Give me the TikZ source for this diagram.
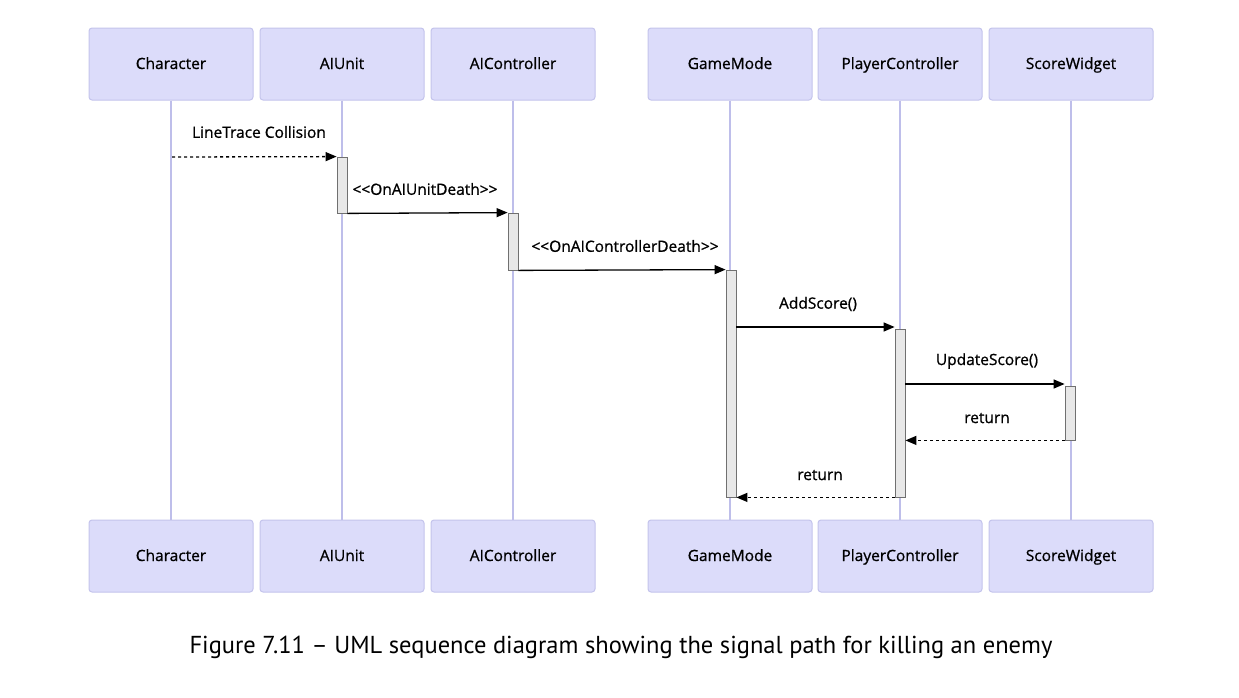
\documentclass[tikz,border=0pt]{standalone}
\usepackage{fontspec}
\setmainfont{Open Sans}
\newfontfamily\dfont{Open Sans}[BoldFont={Open Sans}, BoldFeatures={FakeBold=0.9}]
\newfontfamily\capfont{PT Sans}
\usetikzlibrary{arrows.meta}
\definecolor{boxfill}{HTML}{DCDCFA}
\definecolor{boxline}{HTML}{C4C4EC}
\definecolor{lifeline}{HTML}{BEBEEA}
\definecolor{actfill}{HTML}{E8E8E8}
\definecolor{actline}{HTML}{707070}
\tikzset{
  actor/.style={draw=boxline, fill=boxfill, rounded corners=3pt, minimum width=164pt, minimum height=72pt, inner sep=0pt, font=\dfont\bfseries\fontsize{15.5}{18}\selectfont, text height=11pt, text depth=1pt, line width=1pt},
  life/.style={draw=lifeline, line width=1.2pt},
  actbar/.style={draw=actline, fill=actfill, minimum width=10pt, inner sep=0pt, line width=0.8pt},
  msg/.style={line width=1.3pt, -{Triangle[length=11pt,width=9pt]}},
  ret/.style={msg, dash pattern=on 3pt off 3pt},
  lbl/.style={font=\dfont\bfseries\fontsize{15.5}{18}\selectfont, inner sep=0pt}
}
\begin{document}
\begin{tikzpicture}[x=1pt,y=-1pt]
\useasboundingbox[fill=white] (0,0) rectangle (1239,697);
% top actors
\node[actor] (ct) at (171,64) {Character};
\node[actor] (ut) at (342,64) {AIUnit};
\node[actor] (ict) at (513,64) {AIController};
\node[actor] (gt) at (730,64) {GameMode};
\node[actor] (pt) at (900,64) {PlayerController};
\node[actor] (st) at (1071,64) {ScoreWidget};
% bottom actors
\node[actor] (cb) at (171,556) {Character};
\node[actor] (ub) at (342,556) {AIUnit};
\node[actor] (icb) at (513,556) {AIController};
\node[actor] (gb) at (730,556) {GameMode};
\node[actor] (pb) at (900,556) {PlayerController};
\node[actor] (sb) at (1071,556) {ScoreWidget};
% lifelines
\foreach \t/\b in {ct/cb,ut/ub,ict/icb,gt/gb,pt/pb,st/sb}
  \draw[life] (\t.south) -- (\b.north);
% activation bars
\node[actbar, minimum height=56pt] (a1) at (342,185) {};
\node[actbar, minimum height=57pt] (a2) at (513,241.5) {};
\node[actbar, minimum height=227pt] (a3) at (731,383.5) {};
\node[actbar, minimum height=168pt] (a4) at (900,413) {};
\node[actbar, minimum height=54pt] (a5) at (1070,413) {};
\coordinate (c1) at (172,157);
% messages
\draw[ret] (c1) -- (a1.north west);
\node[lbl] at (259,132) {LineTrace Collision};
\draw[msg] (a1.south east) -- (a2.north west);
\node[lbl] at (425,189) {<{}<OnAIUnitDeath>{}>};
\draw[msg] (a2.south east) -- (a3.north west);
\node[lbl] at (625,246) {<{}<OnAIControllerDeath>{}>};
\draw[msg] (a3.east |- 0,327) -- (a4.west |- 0,327);
\node[lbl] at (818,304) {AddScore()};
\draw[msg] (a4.east |- 0,384) -- (a5.west |- 0,384);
\node[lbl] at (987,361) {UpdateScore()};
\draw[ret] (a5.south west) -- (a4.east |- a5.south);
\node[lbl] at (987,418) {return};
\draw[ret] (a4.south west) -- (a3.south east);
\node[lbl] at (820,475) {return};
% caption
\node[font=\capfont\fontsize{24.5}{30}\selectfont, inner sep=0pt] (cap) at (621,647) {Figure 7.11 – UML sequence diagram showing the signal path for killing an enemy};
\end{tikzpicture}
\end{document}
